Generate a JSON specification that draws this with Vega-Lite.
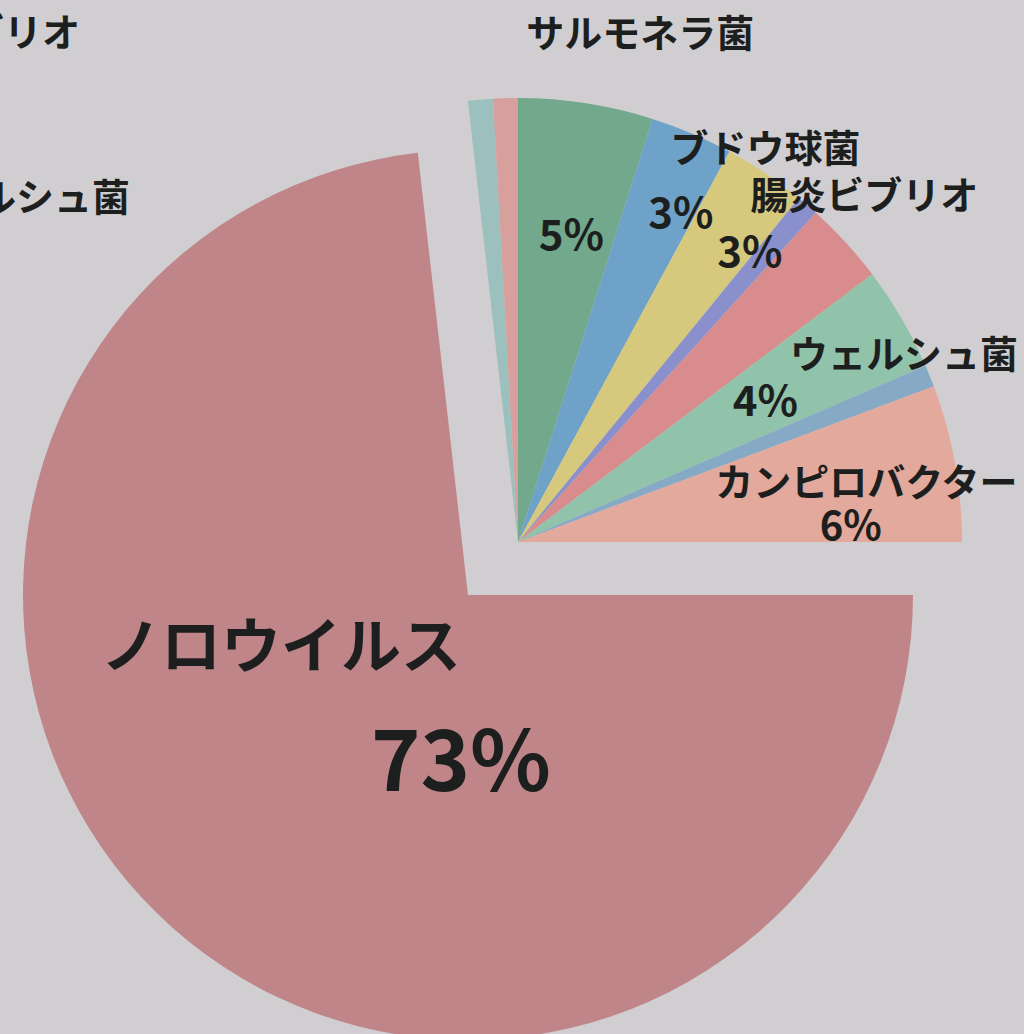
{
  "$schema": "https://vega.github.io/schema/vega-lite/v6.json",
  "width": 1024,
  "height": 1034,
  "autosize": {"type": "none"},
  "padding": 0,
  "background": "#d0ced0",
  "config": {
    "view": {"stroke": null},
    "text": {"font": "Noto Sans CJK JP", "fontWeight": "bold", "color": "#1d1f1e"}
  },
  "datasets": {
    "pie": [
      {"name": "ノロウイルス", "value": 73.2, "order": 1, "grp": "main", "label": "ノロウイルス", "pct": "73%"},
      {"name": "その他A", "value": 0.9, "order": 2, "grp": "rest", "label": "", "pct": ""},
      {"name": "その他B", "value": 0.9, "order": 3, "grp": "rest", "label": "", "pct": ""},
      {"name": "サルモネラ菌", "value": 4.9, "order": 4, "grp": "rest", "label": "サルモネラ菌", "pct": "5%"},
      {"name": "ブドウ球菌", "value": 3.0, "order": 5, "grp": "rest", "label": "ブドウ球菌", "pct": "3%"},
      {"name": "腸炎ビブリオ", "value": 3.0, "order": 6, "grp": "rest", "label": "腸炎ビブリオ", "pct": "3%"},
      {"name": "その他C", "value": 0.8, "order": 7, "grp": "rest", "label": "", "pct": ""},
      {"name": "その他D", "value": 3.0, "order": 8, "grp": "rest", "label": "", "pct": ""},
      {"name": "ウェルシュ菌", "value": 3.8, "order": 9, "grp": "rest", "label": "ウェルシュ菌", "pct": "4%"},
      {"name": "その他E", "value": 0.8, "order": 10, "grp": "rest", "label": "", "pct": ""},
      {"name": "カンピロバクター", "value": 5.7, "order": 11, "grp": "rest", "label": "カンピロバクター", "pct": "6%"}
    ]
  },
  "data": {"name": "pie"},
  "layer": [
    {
      "transform": [
        {"stack": "value", "groupby": [], "sort": [{"field": "order", "order": "ascending"}], "as": ["v0", "v1"]},
        {"filter": "datum.grp === 'main'"}
      ],
      "mark": {"type": "arc", "radius": 445, "xOffset": -44, "yOffset": 78},
      "encoding": {
        "theta": {"field": "v0", "type": "quantitative", "scale": {"domain": [0, 100], "range": [1.5707963267948966, 7.853981633974483]}},
        "theta2": {"field": "v1"},
        "color": {
          "field": "name", "type": "nominal", "legend": null,
          "scale": {
            "domain": ["ノロウイルス", "その他A", "その他B", "サルモネラ菌", "ブドウ球菌", "腸炎ビブリオ", "その他C", "その他D", "ウェルシュ菌", "その他E", "カンピロバクター"],
            "range": ["#bf8588", "#9cc0bd", "#d8a09c", "#72a88c", "#6ea2c8", "#d6c97e", "#8a90cc", "#d98c8e", "#91c2aa", "#86a9c6", "#e2a99c"]
          }
        }
      }
    },
    {
      "transform": [
        {"stack": "value", "groupby": [], "sort": [{"field": "order", "order": "ascending"}], "as": ["v0", "v1"]},
        {"filter": "datum.grp === 'rest'"}
      ],
      "mark": {"type": "arc", "radius": 444, "xOffset": 6, "yOffset": 25},
      "encoding": {
        "theta": {"field": "v0", "type": "quantitative", "scale": {"domain": [0, 100], "range": [1.5707963267948966, 7.853981633974483]}},
        "theta2": {"field": "v1"},
        "color": {"field": "name", "type": "nominal", "legend": null}
      }
    },
    {
      "mark": {"type": "text", "radius": 0, "xOffset": -44, "yOffset": 78, "dx": -187, "dy": 55, "fontSize": 60},
      "encoding": {
        "theta": {"field": "value", "type": "quantitative", "stack": true},
        "order": {"field": "order"},
        "text": {"condition": {"test": "datum.grp === 'main'", "field": "label", "type": "nominal"}, "value": ""}
      }
    },
    {
      "mark": {"type": "text", "radius": 0, "xOffset": -44, "yOffset": 78, "dx": -7, "dy": 171, "fontSize": 84},
      "encoding": {
        "theta": {"field": "value", "type": "quantitative", "stack": true},
        "order": {"field": "order"},
        "text": {"condition": {"test": "datum.grp === 'main'", "field": "pct", "type": "nominal"}, "value": ""}
      }
    },
    {
      "mark": {"type": "text", "radius": 517, "xOffset": 6, "yOffset": 25, "dx": 43, "dy": 5, "fontSize": 38},
      "encoding": {
        "theta": {"field": "value", "type": "quantitative", "stack": true},
        "order": {"field": "order"},
        "text": {"condition": {"test": "datum.name === 'サルモネラ菌'", "field": "label", "type": "nominal"}, "value": ""}
      }
    },
    {
      "mark": {"type": "text", "radius": 456, "xOffset": 6, "yOffset": 25, "dx": 69, "dy": 29, "fontSize": 38},
      "encoding": {
        "theta": {"field": "value", "type": "quantitative", "stack": true},
        "order": {"field": "order"},
        "text": {"condition": {"test": "datum.name === 'ブドウ球菌'", "field": "label", "type": "nominal"}, "value": ""}
      }
    },
    {
      "mark": {"type": "text", "radius": 478, "xOffset": 6, "yOffset": 25, "dx": 80, "dy": 53, "fontSize": 38},
      "encoding": {
        "theta": {"field": "value", "type": "quantitative", "stack": true},
        "order": {"field": "order"},
        "text": {"condition": {"test": "datum.name === '腸炎ビブリオ'", "field": "label", "type": "nominal"}, "value": ""}
      }
    },
    {
      "mark": {"type": "text", "radius": 427, "xOffset": 6, "yOffset": 25, "dx": 17, "dy": 30, "fontSize": 38},
      "encoding": {
        "theta": {"field": "value", "type": "quantitative", "stack": true},
        "order": {"field": "order"},
        "text": {"condition": {"test": "datum.name === 'ウェルシュ菌'", "field": "label", "type": "nominal"}, "value": ""}
      }
    },
    {
      "mark": {"type": "text", "radius": 352, "xOffset": 6, "yOffset": 25, "dx": 2, "dy": 6, "fontSize": 38},
      "encoding": {
        "theta": {"field": "value", "type": "quantitative", "stack": true},
        "order": {"field": "order"},
        "text": {"condition": {"test": "datum.name === 'カンピロバクター'", "field": "label", "type": "nominal"}, "value": ""}
      }
    },
    {
      "mark": {"type": "text", "radius": 309, "xOffset": 6, "yOffset": 25, "dx": 6, "dy": 0, "fontSize": 42},
      "encoding": {
        "theta": {"field": "value", "type": "quantitative", "stack": true},
        "order": {"field": "order"},
        "text": {"condition": {"test": "datum.name === 'サルモネラ菌'", "field": "pct", "type": "nominal"}, "value": ""}
      }
    },
    {
      "mark": {"type": "text", "radius": 365, "xOffset": 6, "yOffset": 25, "dx": 20, "dy": 9, "fontSize": 42},
      "encoding": {
        "theta": {"field": "value", "type": "quantitative", "stack": true},
        "order": {"field": "order"},
        "text": {"condition": {"test": "datum.name === 'ブドウ球菌'", "field": "pct", "type": "nominal"}, "value": ""}
      }
    },
    {
      "mark": {"type": "text", "radius": 368, "xOffset": 6, "yOffset": 25, "dx": 27, "dy": 18, "fontSize": 42},
      "encoding": {
        "theta": {"field": "value", "type": "quantitative", "stack": true},
        "order": {"field": "order"},
        "text": {"condition": {"test": "datum.name === '腸炎ビブリオ'", "field": "pct", "type": "nominal"}, "value": ""}
      }
    },
    {
      "mark": {"type": "text", "radius": 284, "xOffset": 6, "yOffset": 25, "dx": 2, "dy": 4, "fontSize": 42},
      "encoding": {
        "theta": {"field": "value", "type": "quantitative", "stack": true},
        "order": {"field": "order"},
        "text": {"condition": {"test": "datum.name === 'ウェルシュ菌'", "field": "pct", "type": "nominal"}, "value": ""}
      }
    },
    {
      "mark": {"type": "text", "radius": 330, "xOffset": 6, "yOffset": 25, "dx": 8, "dy": 45, "fontSize": 40},
      "encoding": {
        "theta": {"field": "value", "type": "quantitative", "stack": true},
        "order": {"field": "order"},
        "text": {"condition": {"test": "datum.name === 'カンピロバクター'", "field": "pct", "type": "nominal"}, "value": ""}
      }
    },
    {
      "data": {"values": [{"label": "腸炎ビブリオ"}]},
      "mark": {"type": "text", "align": "right", "dx": -432, "dy": -482, "fontSize": 38},
      "encoding": {"text": {"field": "label", "type": "nominal"}}
    },
    {
      "data": {"values": [{"label": "ウェルシュ菌"}]},
      "mark": {"type": "text", "align": "right", "dx": -382, "dy": -317, "fontSize": 38},
      "encoding": {"text": {"field": "label", "type": "nominal"}}
    }
  ]
}
